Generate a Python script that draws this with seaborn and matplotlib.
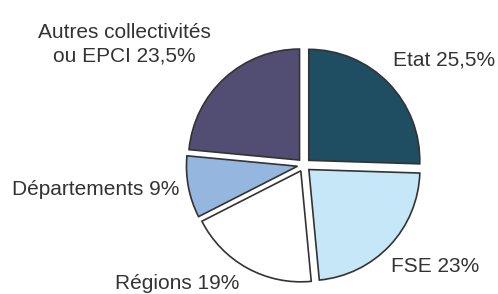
import matplotlib
matplotlib.use("Agg")
import matplotlib.pyplot as plt
import seaborn as sns

# Financement par source (%)
sources = ["Etat", "FSE", "Régions", "Départements", "Autres collectivités\nou EPCI"]
shares = [25.5, 23, 19, 9, 23.5]
share_labels = ["25,5%", "23%", "19%", "9%", "23,5%"]
colors = ["#1F4E63", "#C6E7F7", "#FFFFFF", "#94B6DF", "#524E73"]

sns.set_style("white")
plt.rcParams["font.family"] = ["Liberation Sans", "DejaVu Sans"]

fig = plt.figure(figsize=(4.98, 2.94), dpi=100)
ax = fig.add_axes([0, 0, 1, 1])

wedges, _ = ax.pie(shares, colors=colors, startangle=90, counterclock=False,
                   explode=[0.06] * len(shares),
                   wedgeprops=dict(edgecolor="#333333", linewidth=1.2))

# label positions (axes data units, radius = 1), baseline of last line
label_pos = [(1.26, 0.90), (1.18, -0.964), (-1.14, -1.115), (-1.88, -0.27), (-1.62, 0.928)]
for name, pct, (x, y) in zip(sources, share_labels, label_pos):
    ax.text(x, y, f"{name} {pct}", ha="center", va="baseline", fontsize=15,
            color="#333333", linespacing=1.3, multialignment="center")

ax.set_xlim(-304 / 111, (498 - 304) / 111)
ax.set_ylim(-(294 - 165) / 111, 165 / 111)
ax.set_aspect("equal")
ax.axis("off")

fig.savefig("out.png", dpi=100)
